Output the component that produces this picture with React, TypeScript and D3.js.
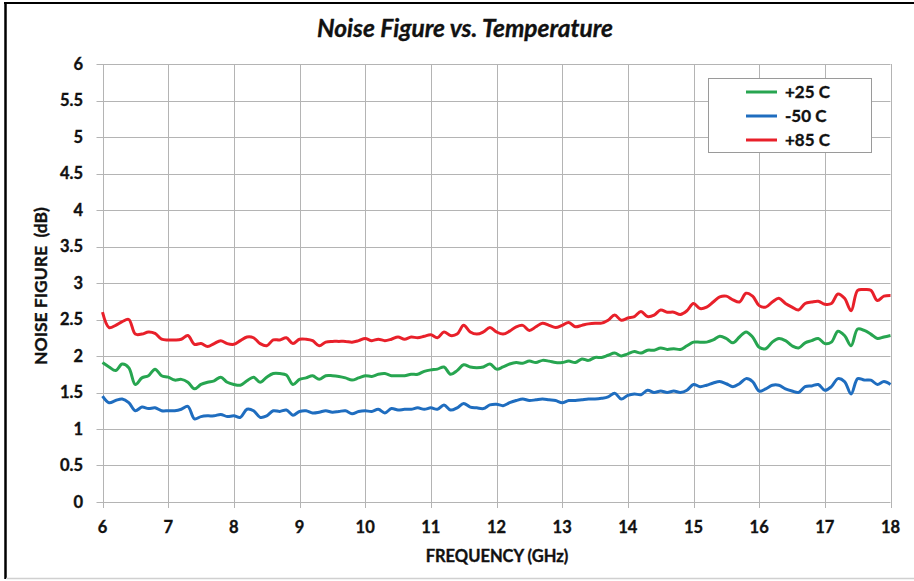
import React, { useEffect, useRef } from "react";
import * as d3 from "d3";

const freqs: number[] = d3.range(0, 121).map((i) => +(6 + i * 0.1).toFixed(1));

const plus25: number[] = [
  1.91, 1.85, 1.80, 1.89, 1.84, 1.61, 1.70, 1.73, 1.82, 1.73,
  1.71, 1.67, 1.68, 1.64, 1.55, 1.61, 1.64, 1.66, 1.71, 1.64,
  1.61, 1.60, 1.66, 1.71, 1.64, 1.71, 1.76, 1.76, 1.74, 1.61,
  1.68, 1.70, 1.73, 1.68, 1.73, 1.73, 1.72, 1.70, 1.67, 1.70,
  1.73, 1.72, 1.75, 1.76, 1.73, 1.73, 1.73, 1.75, 1.75, 1.79,
  1.81, 1.82, 1.85, 1.75, 1.80, 1.88, 1.85, 1.84, 1.85, 1.89,
  1.82, 1.85, 1.89, 1.91, 1.90, 1.93, 1.91, 1.94, 1.93, 1.91,
  1.91, 1.93, 1.91, 1.96, 1.94, 1.98, 1.98, 2.01, 2.04, 2.00,
  2.03, 2.06, 2.04, 2.08, 2.08, 2.11, 2.09, 2.10, 2.09, 2.14,
  2.19, 2.19, 2.19, 2.22, 2.27, 2.24, 2.18, 2.26, 2.33, 2.26,
  2.12, 2.10, 2.19, 2.24, 2.21, 2.14, 2.11, 2.18, 2.21, 2.24,
  2.17, 2.19, 2.34, 2.28, 2.14, 2.37, 2.35, 2.30, 2.24, 2.26,
  2.28,
];

const minus50: number[] = [
  1.45, 1.36, 1.39, 1.41, 1.36, 1.25, 1.30, 1.28, 1.29, 1.25,
  1.25, 1.25, 1.27, 1.31, 1.14, 1.17, 1.18, 1.18, 1.20, 1.17,
  1.18, 1.16, 1.27, 1.25, 1.16, 1.18, 1.25, 1.24, 1.26, 1.19,
  1.24, 1.25, 1.22, 1.23, 1.25, 1.23, 1.24, 1.25, 1.21, 1.24,
  1.25, 1.24, 1.27, 1.22, 1.28, 1.26, 1.27, 1.27, 1.29, 1.27,
  1.29, 1.27, 1.33, 1.26, 1.29, 1.35, 1.30, 1.29, 1.28, 1.33,
  1.34, 1.32, 1.36, 1.39, 1.41, 1.39, 1.40, 1.41, 1.40, 1.39,
  1.36, 1.39, 1.39, 1.40, 1.41, 1.41, 1.42, 1.44, 1.49, 1.41,
  1.46, 1.48, 1.47, 1.53, 1.50, 1.52, 1.50, 1.52, 1.50, 1.53,
  1.61, 1.58, 1.60, 1.63, 1.65, 1.62, 1.58, 1.62, 1.69, 1.65,
  1.52, 1.55, 1.60, 1.60, 1.55, 1.52, 1.50, 1.58, 1.59, 1.61,
  1.53, 1.58, 1.69, 1.65, 1.48, 1.69, 1.67, 1.67, 1.61, 1.65,
  1.61,
];

const plus85: number[] = [
  2.60, 2.39, 2.42, 2.47, 2.50, 2.30, 2.30, 2.33, 2.31, 2.23,
  2.22, 2.22, 2.23, 2.28, 2.16, 2.17, 2.13, 2.17, 2.21, 2.17,
  2.16, 2.21, 2.26, 2.25, 2.17, 2.14, 2.22, 2.22, 2.25, 2.17,
  2.23, 2.23, 2.21, 2.14, 2.19, 2.20, 2.20, 2.20, 2.19, 2.21,
  2.24, 2.21, 2.23, 2.21, 2.23, 2.26, 2.23, 2.26, 2.25, 2.27,
  2.29, 2.25, 2.33, 2.28, 2.30, 2.42, 2.33, 2.30, 2.33, 2.39,
  2.33, 2.30, 2.34, 2.40, 2.42, 2.35, 2.40, 2.45, 2.42, 2.39,
  2.42, 2.46, 2.40, 2.42, 2.44, 2.45, 2.45, 2.49, 2.56, 2.49,
  2.52, 2.54, 2.61, 2.54, 2.56, 2.63, 2.60, 2.60, 2.57, 2.62,
  2.72, 2.65, 2.67, 2.74, 2.81, 2.82, 2.77, 2.74, 2.86, 2.82,
  2.69, 2.67, 2.74, 2.79, 2.72, 2.67, 2.63, 2.72, 2.74, 2.75,
  2.71, 2.72, 2.85, 2.79, 2.62, 2.90, 2.91, 2.90, 2.76, 2.82,
  2.83,
];

const seriesNames: string[] = ["+25 C", "-50 C", "+85 C"];
const seriesColors: string[] = ["#27a550", "#1f6dbf", "#e8202a"];
const xTicks: number[] = [6, 7, 8, 9, 10, 11, 12, 13, 14, 15, 16, 17, 18];
const yTicks: number[] = [0, 0.5, 1, 1.5, 2, 2.5, 3, 3.5, 4, 4.5, 5, 5.5, 6];

const W = 914;
const H = 581;

export default function App() {
  const ref = useRef<SVGSVGElement>(null);

  useEffect(() => {
    document.body.style.margin = "0";
    const svg = d3.select(ref.current);
    svg.selectAll("*").remove();

    const x = d3.scaleLinear().domain([6, 18]).range([102.5, 890.5]);
    const y = d3.scaleLinear().domain([0, 6]).range([502, 64]);
    const font = "Lato, 'Open Sans', sans-serif";
    const heavy = (sel: any) => sel.attr("stroke", "#111").attr("stroke-width", 0.35);

    svg.append("rect").attr("width", W).attr("height", H).attr("fill", "#fff");

    // outer frame
    svg.append("line").attr("x1", 5.5).attr("x2", 5.5).attr("y1", 2).attr("y2", 579)
      .attr("stroke", "#000").attr("stroke-width", 2.5);
    svg.append("line").attr("x1", 4).attr("x2", W).attr("y1", 3).attr("y2", 3)
      .attr("stroke", "#000").attr("stroke-width", 2);
    svg.append("line").attr("x1", 6).attr("x2", W).attr("y1", 578.5).attr("y2", 578.5)
      .attr("stroke", "#d0d0d0").attr("stroke-width", 1.5);

    // grid
    const g = svg.append("g");
    g.selectAll("line.h").data(yTicks).join("line")
      .attr("x1", x(6) - 6).attr("x2", x(18))
      .attr("y1", (d) => Math.round(y(d)) + 0.5).attr("y2", (d) => Math.round(y(d)) + 0.5)
      .attr("stroke", "#b4b4b4").attr("stroke-width", 1);
    g.selectAll("line.v").data(xTicks).join("line")
      .attr("x1", (d) => Math.round(x(d)) + 0.5).attr("x2", (d) => Math.round(x(d)) + 0.5)
      .attr("y1", y(6)).attr("y2", y(0) + 6)
      .attr("stroke", "#b4b4b4").attr("stroke-width", 1);

    // tick labels
    g.selectAll("text.y").data(yTicks).join("text")
      .attr("x", 83).attr("y", (d) => y(d)).attr("dy", "0.36em")
      .attr("text-anchor", "end").attr("font-family", font).attr("font-weight", "bold")
      .attr("font-size", 16.5).attr("fill", "#111").call(heavy).text((d) => String(d));
    g.selectAll("text.x").data(xTicks).join("text")
      .attr("x", (d) => x(d)).attr("y", 533)
      .attr("text-anchor", "middle").attr("font-family", font).attr("font-weight", "bold")
      .attr("font-size", 16.5).attr("fill", "#111").call(heavy).text((d) => String(d));

    // axis titles
    svg.append("text").attr("x", 497).attr("y", 562).attr("text-anchor", "middle")
      .attr("font-family", font).attr("font-weight", "bold").attr("font-size", 16.5)
      .attr("fill", "#111").call(heavy).text("FREQUENCY (GHz)");
    svg.append("text").attr("transform", "translate(47,286) rotate(-90)")
      .attr("text-anchor", "middle").attr("font-family", font).attr("font-weight", "bold")
      .attr("font-size", 17.5).attr("fill", "#111").attr("xml:space", "preserve")
      .style("white-space", "pre").call(heavy).text("NOISE FIGURE  (dB)");

    // title
    svg.append("text").attr("x", 465).attr("y", 37).attr("text-anchor", "middle")
      .attr("font-family", font).attr("font-weight", "bold").attr("font-style", "italic")
      .attr("font-size", 24.5).attr("fill", "#111").call(heavy).text("Noise Figure vs. Temperature");

    // lines
    const all = [plus25, minus50, plus85];
    const line = d3.line<number>()
      .x((_, i) => x(freqs[i]))
      .y((d) => y(d))
      .curve(d3.curveCatmullRom.alpha(0.5));
    const order = [2, 0, 1];
    order.forEach((k) => {
      svg.append("path").attr("d", line(all[k]) as string)
        .attr("fill", "none").attr("stroke", seriesColors[k])
        .attr("stroke-width", 3).attr("stroke-linejoin", "round");
    });

    // legend
    const lg = svg.append("g");
    lg.append("rect").attr("x", 708.5).attr("y", 78.5).attr("width", 163).attr("height", 74)
      .attr("fill", "#fff").attr("stroke", "#9a9a9a").attr("stroke-width", 1);
    seriesNames.forEach((name, i) => {
      const cy = 92 + i * 24;
      lg.append("line").attr("x1", 746).attr("x2", 777).attr("y1", cy).attr("y2", cy)
        .attr("stroke", seriesColors[i]).attr("stroke-width", 3);
      lg.append("text").attr("x", 785).attr("y", cy).attr("dy", "0.36em")
        .attr("font-family", font).attr("font-weight", "bold").attr("font-size", 17)
        .attr("fill", "#111").call(heavy).text(name);
    });
  }, []);

  return (
    <svg ref={ref} width={W} height={H} style={{ position: "absolute", left: 0, top: 0, display: "block" }} />
  );
}
